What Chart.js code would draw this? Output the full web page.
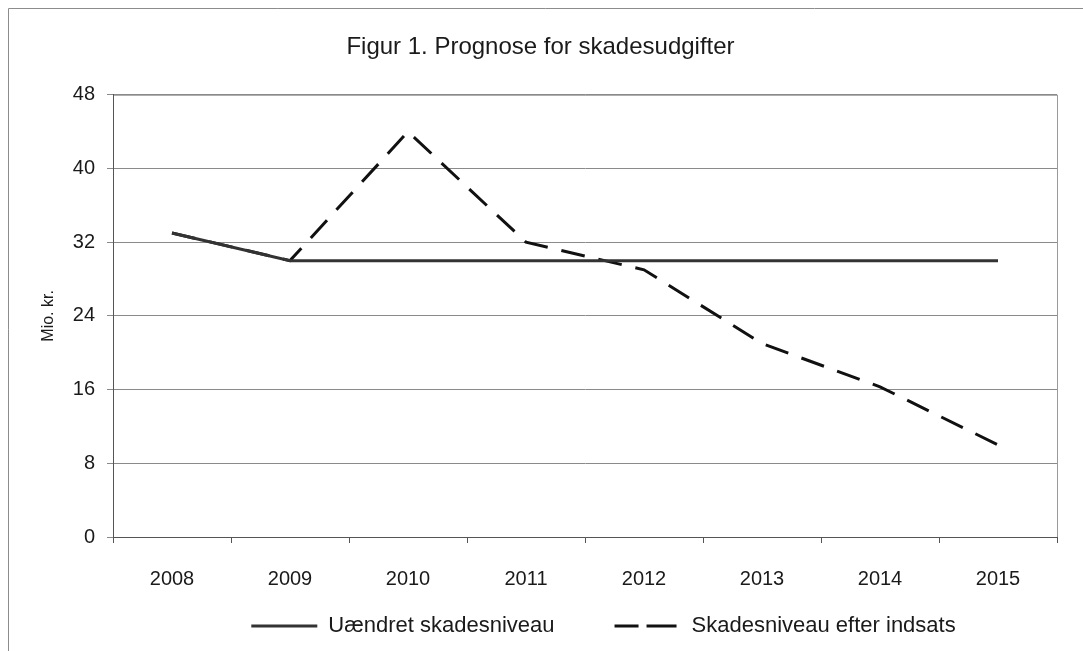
<!DOCTYPE html>
<html>
<head>
<meta charset="utf-8">
<script src="https://cdn.jsdelivr.net/npm/chart.js@4.4.0/dist/chart.umd.min.js"></script>
<style>
  html, body { margin: 0; padding: 0; background: #fff; }
  #wrap { width: 1083px; height: 651px; position: relative; }
</style>
</head>
<body>
<div id="wrap"><canvas id="chart" width="1083" height="651"></canvas></div>
<script>
  // data
  const years = ['2008', '2009', '2010', '2011', '2012', '2013', '2014', '2015'];
  const uaendret = [33, 30, 30, 30, 30, 30, 30, 30];
  const efterIndsats = [33, 30, 44, 32, 29, 21, 16.3, 10];
  const yTicks = [0, 8, 16, 24, 32, 40, 48];

  const FONT = '"Liberation Sans", Arial, sans-serif';

  // scan-style frame (top + left edge) and grey plot-area box
  const framePlugin = {
    id: 'frame',
    beforeDraw(chart) {
      const ctx = chart.ctx;
      ctx.save();
      ctx.strokeStyle = '#8c8c8c';
      ctx.lineWidth = 1;
      ctx.beginPath();
      ctx.moveTo(8.5, 651);
      ctx.lineTo(8.5, 8.5);
      ctx.lineTo(1083, 8.5);
      ctx.stroke();
      const a = chart.chartArea;
      ctx.strokeStyle = '#9a9a9a';
      ctx.strokeRect(a.left + 0.5, a.top + 0.5, a.right - a.left, a.bottom - a.top);
      ctx.restore();
    }
  };

  // legend in the original sits right of centre and close under the labels
  const legendShift = {
    id: 'legendShift',
    afterLayout(chart) {
      const lg = chart.legend;
      lg.left += 63;
      lg.right += 63;
      lg.top -= 36;
      lg.bottom -= 36;
    }
  };

  new Chart(document.getElementById('chart'), {
    type: 'line',
    data: {
      labels: years,
      datasets: [
        {
          label: 'Uændret skadesniveau',
          data: uaendret,
          borderColor: '#333',
          backgroundColor: 'transparent',
          borderWidth: 3,
          pointRadius: 0,
          tension: 0
        },
        {
          label: 'Skadesniveau efter indsats',
          data: efterIndsats,
          borderColor: '#111',
          backgroundColor: 'transparent',
          borderWidth: 3,
          borderDash: [24, 14],
          pointRadius: 0,
          tension: 0
        }
      ]
    },
    options: {
      responsive: false,
      animation: false,
      layout: { padding: { left: 24, right: 26, top: 0, bottom: -32 } },
      plugins: {
        title: {
          display: true,
          text: 'Figur 1. Prognose for skadesudgifter',
          color: '#1a1a1a',
          font: { family: FONT, size: 24, weight: 'normal' },
          padding: { top: 33, bottom: 33 }
        },
        legend: {
          position: 'bottom',
          labels: {
            color: '#1a1a1a',
            font: { family: FONT, size: 22 },
            boxWidth: 66,
            boxHeight: 0,
            padding: 60
          }
        },
        tooltip: { enabled: false }
      },
      scales: {
        x: {
          offset: true,
          afterFit: s => { s.height = 54; },
          grid: {
            display: true,
            offset: true,
            drawOnChartArea: false,
            drawTicks: true,
            tickLength: 6,
            color: '#555'
          },
          border: { color: '#555', width: 1 },
          ticks: {
            color: '#1a1a1a',
            font: { family: FONT, size: 20 },
            padding: 24,
            maxRotation: 0,
            autoSkip: false
          }
        },
        y: {
          min: 0,
          max: 48,
          afterFit: s => { s.width = 89; },
          afterBuildTicks: s => { s.ticks = yTicks.map(v => ({ value: v })); },
          grid: {
            color: '#8a8a8a',
            lineWidth: 1,
            drawTicks: true,
            tickLength: 6
          },
          border: { color: '#555', width: 1 },
          ticks: {
            color: '#1a1a1a',
            font: { family: FONT, size: 20 },
            padding: 12
          },
          title: {
            display: true,
            text: 'Mio. kr.',
            color: '#1a1a1a',
            font: { family: FONT, size: 16 },
            padding: { top: 15, bottom: 0 }
          }
        }
      }
    },
    plugins: [framePlugin, legendShift]
  });
</script>
</body>
</html>
